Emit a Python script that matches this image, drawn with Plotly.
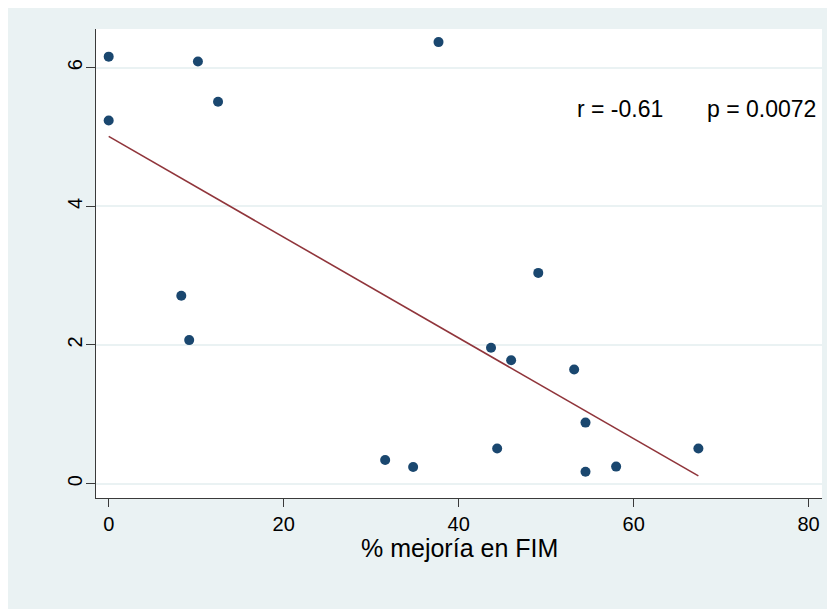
import numpy as np
import plotly.graph_objects as go

# Data
mejoria_fim = [0.0, 0.0, 10.2, 12.5, 37.7, 8.3, 9.2, 31.6, 34.8, 43.7, 46.0, 49.1, 44.4, 53.2, 54.5, 54.5, 58.0, 67.4]
y_values = [6.16, 5.24, 6.09, 5.51, 6.37, 2.71, 2.07, 0.34, 0.24, 1.96, 1.78, 3.04, 0.505, 1.645, 0.88, 0.17, 0.245, 0.505]
x_ticks = [0, 20, 40, 60, 80]
y_ticks = [0, 2, 4, 6]
r_text = "r = -0.61"
p_text = "p = 0.0072"
x_title = "% mejoría en FIM"

x = np.array(mejoria_fim)
y = np.array(y_values)
slope, intercept = np.polyfit(x, y, 1)
fit_x = np.array([x.min(), x.max()])
fit_y = intercept + slope * fit_x

BG = "#EAF2F3"
FONT = "Liberation Sans, Arial, sans-serif"

fig = go.Figure()
fig.add_trace(go.Scatter(x=x, y=y, mode="markers",
                         marker=dict(color="#1A476F", size=10, line=dict(width=0)),
                         showlegend=False))
fig.add_trace(go.Scatter(x=fit_x, y=fit_y, mode="lines",
                         line=dict(color="#90353B", width=1.6),
                         showlegend=False))

# page body has an 8px offset
OFF = 8
W, H = 835, 609
ml, mt = 96 - OFF, 29 - OFF
mr = (W + OFF) - 822
mb = (H + OFF) - 498
pw, ph = W - ml - mr, H - mt - mb

def px_to_paper_x(px):
    return (px - OFF - ml) / pw

def px_to_paper_y(py):
    return (H - mb - (py - OFF)) / ph

fig.update_layout(
    width=W, height=H,
    margin=dict(l=ml, r=mr, t=mt, b=mb, pad=0),
    paper_bgcolor=BG, plot_bgcolor="white",
    font=dict(family=FONT, color="black"),
    xaxis=dict(range=[-1.45, 81.53], tickvals=x_ticks, showgrid=False, zeroline=False,
               showline=True, linecolor="#3a3a3a", linewidth=1,
               ticks="outside", ticklen=8, tickcolor="#3a3a3a", tickwidth=1,
               tickfont=dict(size=20, family=FONT, color="black")),
    yaxis=dict(range=[-0.208, 6.559], tickvals=y_ticks, showgrid=True, gridcolor=BG, gridwidth=1.5,
               zeroline=False, showline=True, linecolor="#3a3a3a", linewidth=1,
               ticks="outside", ticklen=9, tickcolor="#3a3a3a", tickwidth=1, tickangle=-90,
               ticklabelstandoff=-4,
               tickfont=dict(size=20, family=FONT, color="black")),
    annotations=[
        dict(text=x_title, xref="paper", yref="paper", x=0.5, y=px_to_paper_y(548),
             xanchor="center", yanchor="middle", showarrow=False,
             font=dict(size=25, family=FONT, color="black")),
        dict(text=r_text, xref="paper", yref="paper", x=px_to_paper_x(575), y=px_to_paper_y(109),
             xanchor="left", yanchor="middle", showarrow=False,
             font=dict(size=23, family=FONT, color="black")),
        dict(text=p_text, xref="paper", yref="paper", x=px_to_paper_x(705), y=px_to_paper_y(109),
             xanchor="left", yanchor="middle", showarrow=False,
             font=dict(size=23, family=FONT, color="black")),
    ],
)

fig.write_html("out.html")
